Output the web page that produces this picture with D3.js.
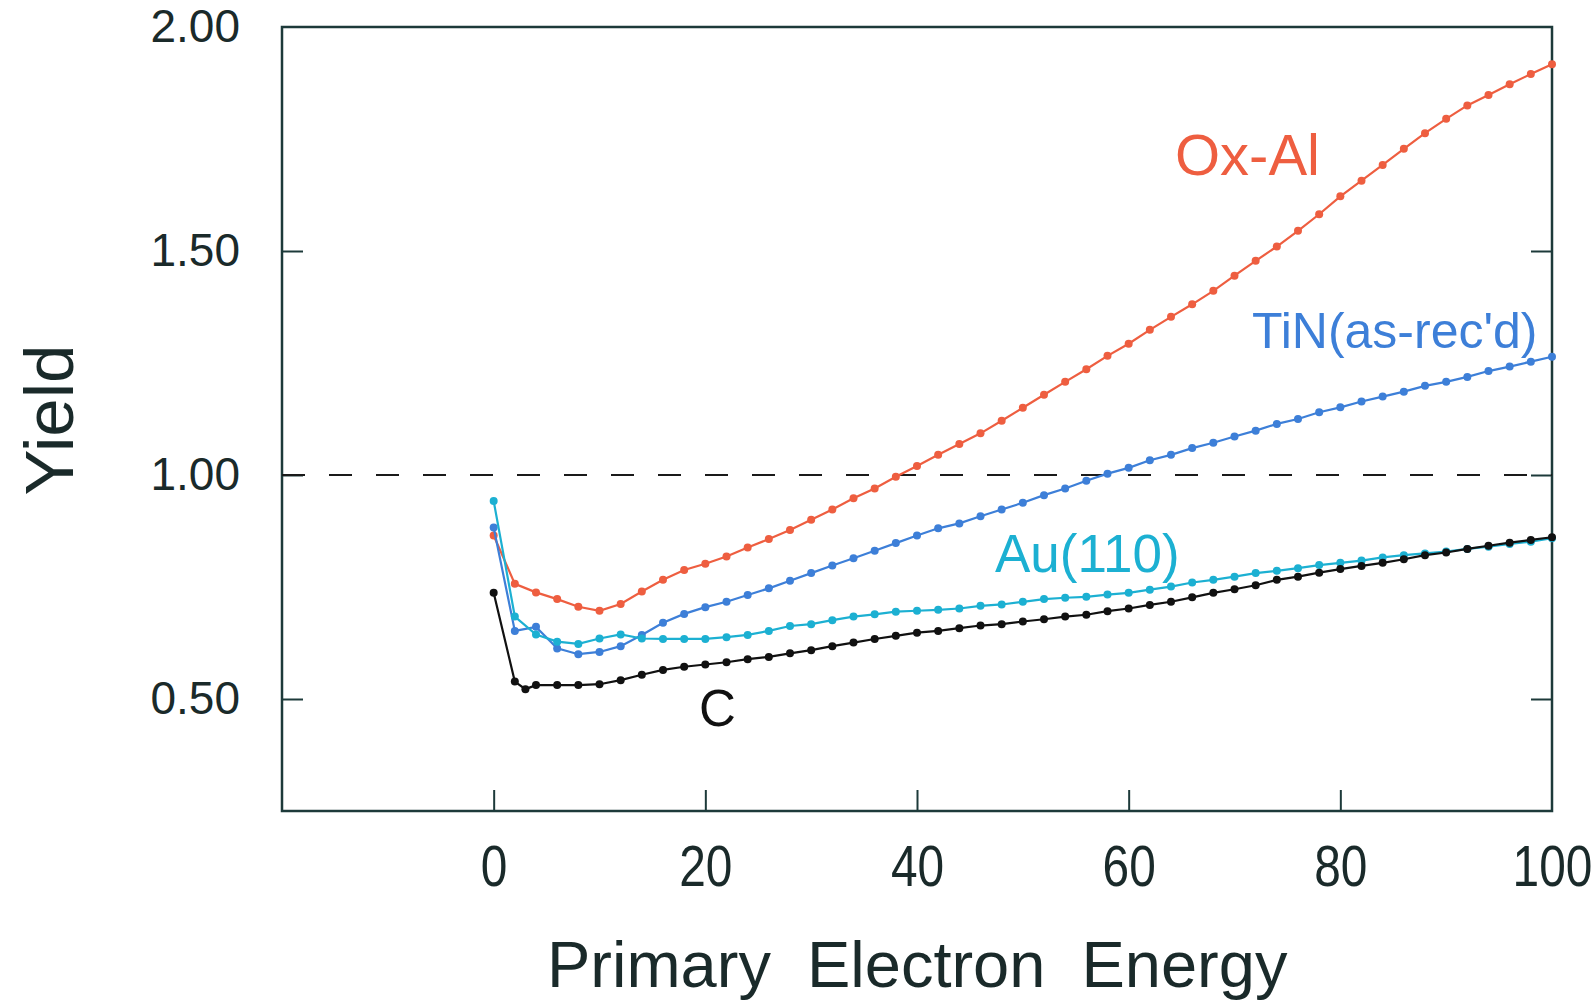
<!DOCTYPE html>
<html>
<head>
<meta charset="utf-8">
<title>Yield vs Primary Electron Energy</title>
<script src="https://cdn.jsdelivr.net/npm/d3@7"></script>
<style>
    body { margin: 0; background: #fff; }
    text { font-family: "Liberation Sans", Arial, Helvetica, sans-serif; }
</style>
</head>
<body>
<div id="chart"></div>
<script>
//****************************************************************************************
// Secondary electron yield vs primary electron energy
//****************************************************************************************

// Data
// --------------------------
const energy = d3.range(0, 101, 2);                      // 0, 2, ... 100
const energyC = [0, 2, 3].concat(d3.range(4, 101, 2));   // C has an extra point at 3

const oxAl = [0.865, 0.757, 0.738, 0.723, 0.706, 0.697, 0.712, 0.740, 0.766, 0.788,
    0.802, 0.818, 0.838, 0.857, 0.877, 0.900, 0.923, 0.948, 0.970, 0.996,
    1.020, 1.045, 1.069, 1.093, 1.121, 1.150, 1.179, 1.208, 1.236, 1.266,
    1.293, 1.324, 1.353, 1.381, 1.411, 1.445, 1.478, 1.510, 1.545, 1.582,
    1.622, 1.657, 1.692, 1.728, 1.763, 1.795, 1.825, 1.848, 1.872, 1.895, 1.917];

const tin = [0.883, 0.652, 0.661, 0.613, 0.600, 0.605, 0.618, 0.643, 0.670, 0.690,
    0.705, 0.717, 0.732, 0.747, 0.764, 0.781, 0.798, 0.814, 0.831, 0.848,
    0.865, 0.881, 0.892, 0.908, 0.923, 0.938, 0.955, 0.970, 0.987, 1.003,
    1.016, 1.033, 1.045, 1.060, 1.072, 1.086, 1.099, 1.114, 1.125, 1.140,
    1.151, 1.164, 1.175, 1.186, 1.199, 1.208, 1.219, 1.232, 1.242, 1.253, 1.264];

const au110 = [0.942, 0.684, 0.644, 0.628, 0.623, 0.635, 0.644, 0.635, 0.634, 0.634,
    0.634, 0.638, 0.643, 0.652, 0.663, 0.667, 0.676, 0.684, 0.689, 0.695,
    0.697, 0.699, 0.702, 0.708, 0.711, 0.717, 0.723, 0.726, 0.728, 0.733,
    0.737, 0.744, 0.751, 0.760, 0.766, 0.773, 0.781, 0.786, 0.792, 0.799,
    0.804, 0.809, 0.816, 0.821, 0.825, 0.829, 0.835, 0.840, 0.846, 0.851, 0.859];

const carbon = [0.737, 0.539, 0.522, 0.531, 0.531, 0.531, 0.533, 0.542, 0.554, 0.565, 0.572,
    0.577, 0.582, 0.589, 0.594, 0.602, 0.609, 0.618, 0.626, 0.634, 0.641,
    0.648, 0.652, 0.658, 0.664, 0.667, 0.673, 0.678, 0.684, 0.688, 0.696,
    0.702, 0.710, 0.717, 0.727, 0.737, 0.745, 0.754, 0.766, 0.773, 0.782,
    0.790, 0.797, 0.804, 0.812, 0.821, 0.827, 0.835, 0.842, 0.849, 0.855, 0.861];

const xTicks = [0, 20, 40, 60, 80, 100];
const yTicks = [0.5, 1.0, 1.5, 2.0];

// Series table built from the arrays above
const series = [
    { name: "Ox-Al", x: energy, y: oxAl, color: "#ee5e40", label: [1175, 175, 58] },
    { name: "TiN(as-rec'd)", x: energy, y: tin, color: "#3d7fd8", label: [1252, 348, 50] },
    { name: "Au(110)", x: energy, y: au110, color: "#1cb0d2", label: [995, 572, 53] },
    { name: "C", x: energyC, y: carbon, color: "#111111", label: [699, 726, 51] }
];

// Dimensions
// ----------
const W = 1595, H = 1003;
const margin = { left: 282, right: 43, top: 27, bottom: 192 };
const width = W - margin.left - margin.right;
const height = H - margin.top - margin.bottom;
const frameColor = "#1d3a3a";
const tickLen = 21;

const x = d3.scaleLinear().domain([-20, 100]).range([0, width]);
const y = d3.scaleLinear().domain([0.25, 2.0]).range([height, 0]);

const svg = d3.select("#chart").append("svg")
    .attr("xmlns", "http://www.w3.org/2000/svg")
    .attr("width", W)
    .attr("height", H);

svg.append("rect")
    .attr("width", W)
    .attr("height", H)
    .style("fill", "white");

const g = svg.append("g")
    .attr("transform", `translate(${margin.left},${margin.top})`);

// Axes
// ----
const left = g.append("g")
    .call(d3.axisLeft(y).tickValues(yTicks).tickSize(-tickLen).tickSizeOuter(0)
        .tickPadding(42).tickFormat(d3.format(".2f")));

const right = g.append("g")
    .attr("transform", `translate(${width},0)`)
    .call(d3.axisRight(y).tickValues(yTicks.slice(0, 3)).tickSize(-tickLen).tickSizeOuter(0)
        .tickFormat(""));

const bottom = g.append("g")
    .attr("transform", `translate(0,${height})`)
    .call(d3.axisBottom(x).tickValues(xTicks).tickSize(-tickLen).tickSizeOuter(0)
        .tickPadding(35).tickFormat(d3.format("d")));

// the 100 and 2.00 ticks sit on the corners, so no mark for them
bottom.selectAll(".tick line").filter(d => d === 100).remove();
left.selectAll(".tick line").filter(d => d === 2).remove();

[left, right, bottom].forEach(a => {
    a.select(".domain").remove();
    a.selectAll(".tick line").attr("stroke", frameColor).attr("stroke-width", 2);
    a.selectAll("text").attr("fill", "#1a2a2a").attr("font-family", null);
});
left.selectAll("text").style("font-size", "46px");
bottom.selectAll("text")
    .style("font-size", "57px")
    .attr("transform", "scale(0.84,1)");

// Frame
g.append("rect")
    .attr("width", width)
    .attr("height", height)
    .attr("fill", "none")
    .attr("stroke", frameColor)
    .attr("stroke-width", 2.5);

// Reference line at yield = 1
g.append("line")
    .attr("x1", 0)
    .attr("x2", width)
    .attr("y1", y(1))
    .attr("y2", y(1))
    .attr("stroke", "#1a1a1a")
    .attr("stroke-width", 2)
    .attr("stroke-dasharray", "23,24");

// Curves and markers
// ------------------
const line = d3.line()
    .x(d => x(d[0]))
    .y(d => y(d[1]));

series.forEach(s => {
    const pts = s.x.map((e, i) => [e, s.y[i]]);
    const sg = g.append("g").attr("class", "series");

    sg.append("path")
        .datum(pts)
        .attr("d", line)
        .attr("fill", "none")
        .attr("stroke", s.color)
        .attr("stroke-width", 2.2);

    sg.selectAll("circle")
        .data(pts)
        .join("circle")
        .attr("cx", d => x(d[0]))
        .attr("cy", d => y(d[1]))
        .attr("r", 4)
        .attr("fill", s.color);

    // label next to the curve (absolute page position)
    svg.append("text")
        .attr("x", s.label[0])
        .attr("y", s.label[1])
        .style("font-size", s.label[2] + "px")
        .attr("fill", s.color)
        .text(s.name);
});

// Axis titles
// -----------
svg.append("text")
    .attr("transform", "translate(73,420) rotate(-90)")
    .attr("text-anchor", "middle")
    .style("font-size", "69px")
    .attr("fill", "#1a2a2a")
    .text("Yield");

svg.append("text")
    .attr("x", 547)
    .attr("y", 987)
    .style("font-size", "65px")
    .style("word-spacing", "18px")
    .attr("fill", "#1a2a2a")
    .text("Primary Electron Energy");
</script>
</body>
</html>
